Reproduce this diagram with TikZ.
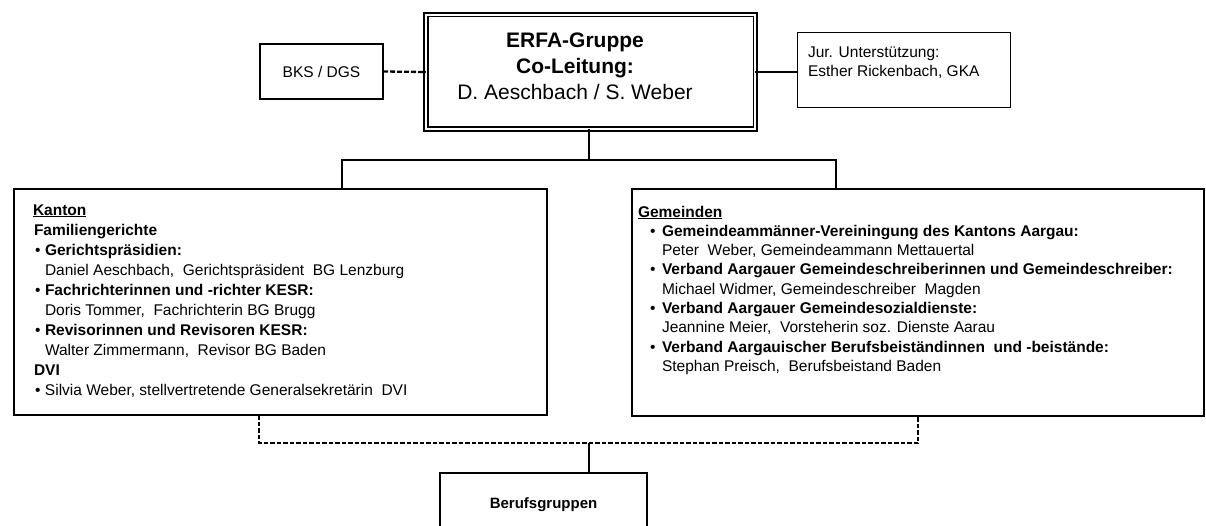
\documentclass[tikz,border=0pt]{standalone}
\usepackage{fontspec}
\setmainfont{Liberation Sans}
\newcommand\myLb{\hspace*{2pt}\makebox[10pt][l]{•}}
\newcommand\myLi{\hspace*{12pt}}
\newcommand\myRb{\hspace*{12pt}\makebox[12pt][l]{•}}
\newcommand\myRi{\hspace*{24pt}}
\begin{document}
\begin{tikzpicture}[x=1pt,y=-1pt,
  box/.style={draw, line width=2.1pt, inner sep=0pt, outer sep=0pt},
  conn/.style={line width=2.1pt},
  dconn/.style={line width=2.1pt, dash pattern=on 4.5pt off 2pt},
  txt/.style={inner sep=0pt, outer sep=0pt, align=left, anchor=north west, font=\fontsize{15.5}{20}\selectfont}]
\useasboundingbox (0,0) rectangle (1206,526);
\clip (0,0) rectangle (1206,526);

% boxes
\node[box, minimum width=123pt, minimum height=55pt, font=\fontsize{15.5}{18}\selectfont] (bks) at (321.5,71.5) {BKS / DGS};
\node[draw, double, double distance=2.3pt, line width=1.6pt, inner sep=0pt, outer sep=0pt, minimum width=329.5pt, minimum height=114.5pt] (main) at (590.5,72) {};
\node[inner sep=0pt, anchor=north, align=center, font=\fontsize{21}{26}\selectfont] (maintext) at (575,31.5) {\rule{0pt}{16pt}\textbf{ERFA-Gruppe}\\\textbf{Co-Leitung:}\\D. Aeschbach / S. Weber};
\node[box, line width=1.5pt, minimum width=213pt, minimum height=75pt] (jur) at (904,70) {};
\node[txt, font=\fontsize{15.5}{19}\selectfont] (jurtext) at (808,46) {\rule{0pt}{12pt}Jur. Unterstützung:\\Esther Rickenbach, GKA};

\node[box, minimum width=533pt, minimum height=226pt] (kanton) at (280.5,302) {};
\node[txt] (kantontext) at (33,203) {\rule{0pt}{12pt}\underline{\textbf{Kanton}}\\
\hspace*{1pt}\textbf{Familiengerichte}\\
\myLb\textbf{Gerichtspräsidien:}\\
\myLi Daniel Aeschbach,~ Gerichtspräsident~ BG Lenzburg\\
\myLb\textbf{Fachrichterinnen und -richter KESR:}\\
\myLi Doris Tommer,~ Fachrichterin BG Brugg\\
\myLb\textbf{Revisorinnen und Revisoren KESR:}\\
\myLi Walter Zimmermann,~ Revisor BG Baden\\
\hspace*{1pt}\textbf{DVI}\\
\myLb Silvia Weber, stellvertretende Generalsekretärin~ DVI};

\node[box, minimum width=572pt, minimum height=227pt] (gemeinden) at (918,302.5) {};
\node[txt, font=\fontsize{15.5}{19.3}\selectfont] (gemeindentext) at (638,205) {\rule{0pt}{12pt}\underline{\textbf{Gemeinden}}\\
\myRb\textbf{Gemeindeammänner-Vereiningung des Kantons Aargau:}\\
\myRi Peter~ Weber, Gemeindeammann Mettauertal\\
\myRb\textbf{Verband Aargauer Gemeindeschreiberinnen und Gemeindeschreiber:}\\
\myRi Michael Widmer, Gemeindeschreiber~ Magden\\
\myRb\textbf{Verband Aargauer Gemeindesozialdienste:}\\
\myRi Jeannine Meier,~ Vorsteherin soz. Dienste Aarau\\
\myRb\textbf{Verband Aargauischer Berufsbeiständinnen~ und -beistände:}\\
\myRi Stephan Preisch,~ Berufsbeistand Baden};

\node[box, anchor=north, minimum width=207pt, minimum height=64pt, font=\bfseries\fontsize{15}{18}\selectfont] (berufs) at (543.5,473) {Berufsgruppen};

% connectors
\draw[line width=2.3pt, dash pattern=on 5pt off 2pt] (bks.east) -- (main.west);
\draw[line width=2.3pt] (main.east) -- (main.east -| jur.west);

\coordinate (tl) at (342,160);
\coordinate (tr) at (836,160);
\coordinate (tm) at (589,160);
\draw[conn] (main.south -| tm) -- (tm);
\draw[conn] (kanton.north -| tl) -- (tl) -- (tr) -- (gemeinden.north -| tr);

\coordinate (bl) at (259,443);
\coordinate (br) at (918,443);
\coordinate (bm) at (589,443);
\draw[dconn] (kanton.south -| bl) -- (bl) -- (br) -- (gemeinden.south -| br);
\draw[conn] (bm) -- (berufs.north -| bm);
\end{tikzpicture}
\end{document}
